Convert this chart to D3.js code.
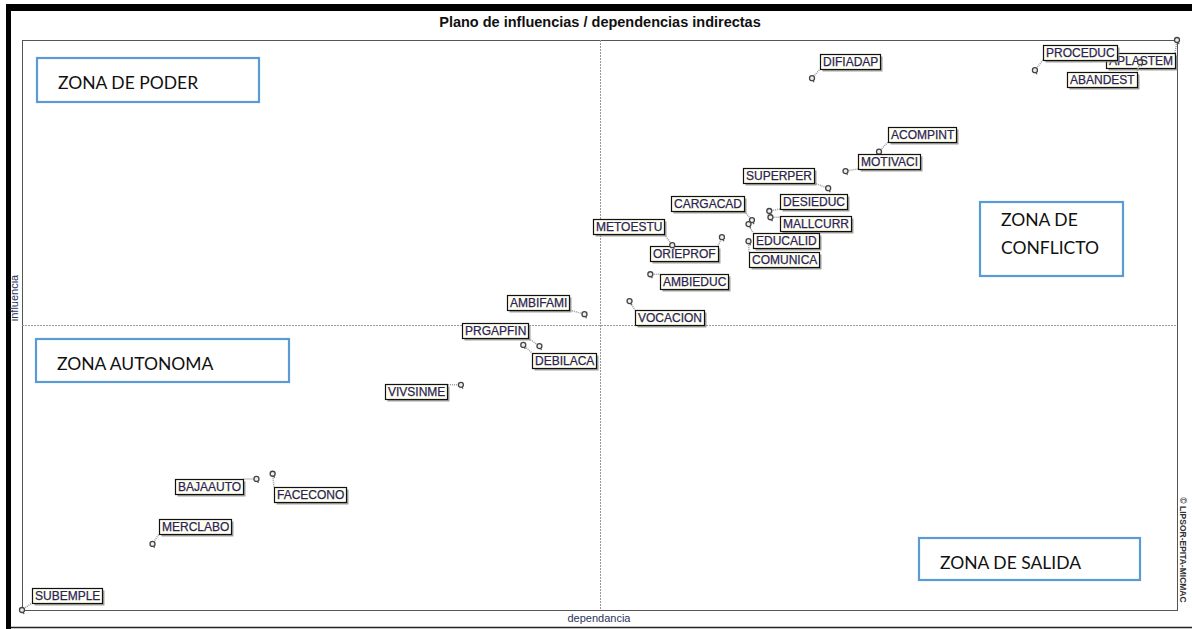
<!DOCTYPE html>
<html>
<head>
<meta charset="utf-8">
<script src="https://cdn.jsdelivr.net/npm/d3@7"></script>
<style>
  body { margin: 0; background: #fff; }
  svg { display: block; }
</style>
</head>
<body>
<div id="chart"></div>
<script>
// variables (MICMAC indirect influence / dependence)
const variables = ["APLASTEM", "ABANDEST", "PROCEDUC", "DIFIADAP", "ACOMPINT", "MOTIVACI",
  "SUPERPER", "DESIEDUC", "MALLCURR", "CARGACAD", "EDUCALID", "COMUNICA", "ORIEPROF",
  "METOESTU", "AMBIEDUC", "VOCACION", "AMBIFAMI", "PRGAPFIN", "DEBILACA", "VIVSINME",
  "FACECONO", "BAJAAUTO", "MERCLABO", "SUBEMPLE"];
const dependencia = [1000, 968, 877, 684, 742, 713, 698, 647, 648, 632, 629, 629, 606,
  563, 544, 526, 487, 448, 434, 380, 217, 203, 113, 0];
const influencia = [1000, 961, 947, 933, 804, 770, 740, 700, 689, 684, 677, 647, 654,
  640, 589, 542, 519, 463, 465, 395, 239, 230, 116, 0];
const zonas = ["ZONA DE PODER", "ZONA DE CONFLICTO", "ZONA AUTONOMA", "ZONA DE SALIDA"];

const W = 1192, H = 629;
const plot = { left: 22, right: 1177, top: 40, bottom: 610 };

const svg = d3.select("#chart").append("svg")
  .attr("width", W).attr("height", H)
  .attr("viewBox", `0 0 ${W} ${H}`);

// outer black frame (screenshot border)
svg.append("rect").attr("x", 6).attr("y", 4).attr("width", W - 6).attr("height", 7).attr("fill", "#000");
svg.append("rect").attr("x", 6).attr("y", 4).attr("width", 5).attr("height", H - 4).attr("fill", "#000");
svg.append("line").attr("x1", 11).attr("x2", W).attr("y1", 627.5).attr("y2", 627.5)
  .attr("stroke", "#222").attr("stroke-width", 1.5);

// scales
const x = d3.scaleLinear().domain(d3.extent(dependencia)).range([plot.left, plot.right]);
const y = d3.scaleLinear().domain(d3.extent(influencia)).range([plot.bottom, plot.top]);

// plot frame
svg.append("rect")
  .attr("x", plot.left + 0.5).attr("y", plot.top + 0.5)
  .attr("width", plot.right - plot.left).attr("height", plot.bottom - plot.top)
  .attr("fill", "none").attr("stroke", "#555").attr("stroke-width", 1);

// mean axes
const mx = x((x.domain()[0] + x.domain()[1]) / 2);
const my = y((y.domain()[0] + y.domain()[1]) / 2);
svg.append("line").attr("x1", Math.round(mx) + 0.5).attr("x2", Math.round(mx) + 0.5)
  .attr("y1", plot.top).attr("y2", plot.bottom)
  .attr("stroke", "#999").attr("stroke-dasharray", "2,1");
svg.append("line").attr("x1", plot.left).attr("x2", plot.right)
  .attr("y1", Math.round(my) + 0.5).attr("y2", Math.round(my) + 0.5)
  .attr("stroke", "#999").attr("stroke-dasharray", "2,1");

// titles
svg.append("text").attr("x", 600).attr("y", 27).attr("text-anchor", "middle")
  .attr("font-family", "Liberation Sans, Arial, sans-serif").attr("font-weight", "bold")
  .attr("font-size", 14.5).attr("fill", "#111")
  .text("Plano de influencias / dependencias indirectas");
svg.append("text").attr("x", 599).attr("y", 622).attr("text-anchor", "middle")
  .attr("font-family", "Liberation Sans, Arial, sans-serif")
  .attr("font-size", 11).attr("fill", "#2a3560").text("dependancia");
svg.append("text").attr("transform", "translate(18,298) rotate(-90)").attr("text-anchor", "middle")
  .attr("font-family", "Liberation Sans, Arial, sans-serif")
  .attr("font-size", 11).attr("fill", "#2a3560").text("influencia");
svg.append("text").attr("transform", "translate(1180,550) rotate(90)").attr("text-anchor", "middle")
  .attr("font-family", "Liberation Sans, Arial, sans-serif")
  .attr("font-size", 8.5).attr("font-weight", "bold").attr("fill", "#333").text("© LIPSOR-EPITA-MICMAC");

// label placement offsets (box top-left relative to the point)
const labelOffsets = {
  APLASTEM: [-71, 13], ABANDEST: [-73, 10], PROCEDUC: [8, -25], DIFIADAP: [8, -24],
  ACOMPINT: [9, -25], MOTIVACI: [12, -17], SUPERPER: [-85, -20], DESIEDUC: [11, -17],
  MALLCURR: [10, -1], CARGACAD: [-81, -24], EDUCALID: [5, 9], COMUNICA: [1, 11],
  ORIEPROF: [-72, 9], METOESTU: [-79, -26], AMBIEDUC: [10, 0], VOCACION: [5, 9],
  AMBIFAMI: [-77, -19], PRGAPFIN: [-77, -23], DEBILACA: [9, 8], VIVSINME: [-76, -1],
  FACECONO: [1, 13], BAJAAUTO: [-81, 0], MERCLABO: [6, -25], SUBEMPLE: [10, -22]
};

const data = variables.map((v, i) => ({ name: v, dep: dependencia[i], inf: influencia[i] }));

const g = svg.append("g");
const item = g.selectAll("g.var").data(data).join("g").attr("class", "var");

const bh = 15;
item.each(function (d) {
  const sel = d3.select(this);
  const px = x(d.dep), py = y(d.inf);
  const [dx, dy] = labelOffsets[d.name];
  const t = sel.append("text")
    .attr("font-family", "Liberation Sans, Arial, sans-serif")
    .attr("font-size", 12).attr("fill", "#2b1f5c")
    .attr("stroke", "#2b1f5c").attr("stroke-width", 0.25)
    .text(d.name);
  const tw = t.node().getComputedTextLength();
  const bw = Math.round(tw + 5);
  const bx = Math.round(px + dx), by = Math.round(py + dy);
  // connector to nearest point of label box
  const cx = Math.max(bx, Math.min(px, bx + bw));
  const cy = Math.max(by, Math.min(py, by + bh));
  sel.insert("line", "text")
    .attr("x1", px).attr("y1", py).attr("x2", cx).attr("y2", cy)
    .attr("stroke", "#999").attr("stroke-width", 1.5).attr("stroke-dasharray", "1,1");
  sel.insert("rect", "text")
    .attr("x", bx + 2.5).attr("y", by + 2.5).attr("width", bw).attr("height", bh)
    .attr("fill", "#8a8a8a").attr("opacity", 0.8);
  sel.insert("rect", "text")
    .attr("x", bx + 0.5).attr("y", by + 0.5).attr("width", bw).attr("height", bh)
    .attr("fill", "#fffff0").attr("stroke", "#111").attr("stroke-width", 1.2);
  t.attr("x", bx + 3).attr("y", by + 12);
  // point marker
  sel.append("line").attr("x1", px).attr("y1", py).attr("x2", px + 2).attr("y2", py + 4)
    .attr("stroke", "#555").attr("stroke-width", 1.2);
  sel.append("circle").attr("cx", px).attr("cy", py).attr("r", 2.5)
    .attr("fill", "#eee").attr("stroke", "#444").attr("stroke-width", 1.3);
});

// zone boxes
const zoneBoxes = [
  { x: 37, y: 58, w: 222, h: 44, lines: ["ZONA DE PODER"] },
  { x: 980, y: 202, w: 143, h: 74, lines: ["ZONA DE", "CONFLICTO"] },
  { x: 36, y: 339, w: 253, h: 43, lines: ["ZONA AUTONOMA"] },
  { x: 919, y: 538, w: 221, h: 42, lines: ["ZONA DE SALIDA"] }
];
const zg = svg.append("g").selectAll("g").data(zonas).join("g");
zg.each(function (z, i) {
  const b = zoneBoxes[i];
  const s = d3.select(this);
  s.append("rect").attr("x", b.x).attr("y", b.y).attr("width", b.w).attr("height", b.h)
    .attr("fill", "#fff").attr("stroke", "#5b9bd5").attr("stroke-width", 2.2);
  b.lines.forEach((l, j) => {
    s.append("text").attr("x", b.x + 21).attr("y", b.y + 31 + j * 28 - (b.lines.length > 1 ? 7 : 0))
      .attr("font-family", "Lato, 'Open Sans', sans-serif").attr("font-size", 17.5)
      .attr("fill", "#111").text(l);
  });
});
</script>
</body>
</html>
